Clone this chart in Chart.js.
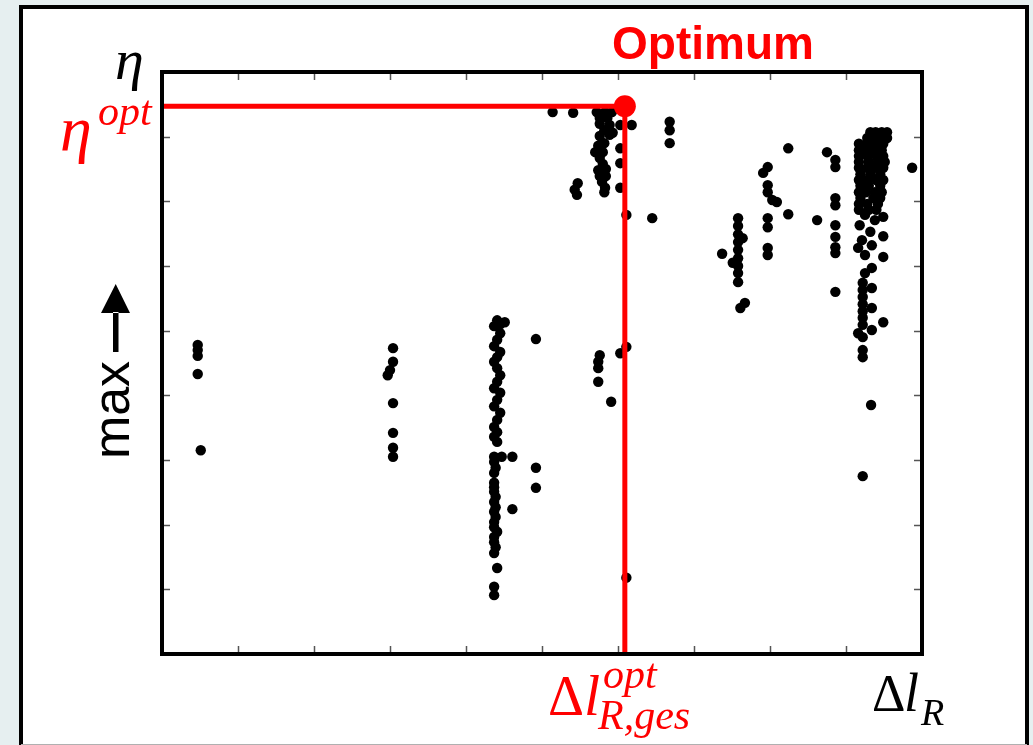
<!DOCTYPE html>
<html>
<head>
<meta charset="utf-8">
<script src="https://cdn.jsdelivr.net/npm/chart.js@4"></script>
<style>
  body { margin: 0; background: #e6eff0; }
  canvas { display: block; }
</style>
</head>
<body>
<canvas id="paretoChart" width="1033" height="745"></canvas>
<script>
// axis extent (no numbers shown on the original, only ticks)
const xTicks = [0, 1, 2, 3, 4, 5, 6, 7, 8, 9, 10];
const yTicks = [0, 1, 2, 3, 4, 5, 6, 7, 8, 9];

// optimum point (eta_opt at delta l_opt)
const optimum = [6.09, 8.47];

// simulation runs, grouped by column of the scatter
const clusterA = [[0.47, 4.78], [0.47, 4.70], [0.47, 4.61], [0.47, 4.33], [0.51, 3.15]];
const clusterB = [[3.04, 4.73], [3.04, 4.52], [3.0, 4.39], [2.97, 4.31], [3.04, 3.88], [3.04, 3.42], [3.04, 3.19], [3.04, 3.05]];
const clusterC = [
  [4.41, 5.16], [4.51, 5.13], [4.45, 5.10], [4.37, 5.07], [4.45, 4.96], [4.41, 4.86], [4.37, 4.76], [4.45, 4.67], [4.41, 4.59],
  [4.37, 4.52], [4.41, 4.42], [4.45, 4.31], [4.41, 4.21], [4.37, 4.11], [4.45, 4.04], [4.41, 3.93], [4.37, 3.83],
  [4.45, 3.73], [4.41, 3.62], [4.37, 3.51], [4.41, 3.43], [4.37, 3.36], [4.41, 3.28], [4.37, 3.05], [4.47, 3.05],
  [4.61, 3.05], [4.37, 2.97], [4.39, 2.88], [4.37, 2.80], [4.37, 2.65], [4.37, 2.58], [4.37, 2.51], [4.39, 2.43], [4.37, 2.35], [4.39, 2.27],
  [4.37, 2.20], [4.39, 2.12], [4.37, 2.04], [4.37, 1.96], [4.41, 1.89], [4.37, 1.81], [4.37, 1.73], [4.39, 1.65],
  [4.37, 1.56], [4.41, 1.33], [4.37, 1.04], [4.37, 0.91], [4.92, 4.87], [4.92, 2.88], [4.92, 2.57], [4.61, 2.24]
];
const clusterMid = [[5.76, 4.62], [5.74, 4.52], [5.74, 4.42], [5.74, 4.21], [5.91, 3.90], [6.03, 4.65], [6.11, 4.75], [6.11, 1.18]];
const clusterTop = [
  [5.14, 8.38], [5.41, 8.37], [5.72, 8.38], [5.83, 8.38], [5.92, 8.38], [5.76, 8.29], [5.86, 8.29], [5.76, 8.20], [5.82, 8.10],
  [5.76, 8.01], [5.89, 8.18], [5.89, 8.03], [5.93, 8.06], [5.74, 7.86], [5.82, 7.90], [5.70, 7.76], [5.80, 7.76], [5.76, 7.67], [5.80, 7.58],
  [5.74, 7.48], [5.84, 7.50], [5.84, 7.39], [5.76, 7.39], [5.79, 7.30], [5.83, 7.21], [5.82, 7.14], [6.03, 8.18], [6.18, 8.18], [6.03, 7.82],
  [6.03, 7.59], [6.03, 7.21], [5.47, 7.28], [5.43, 7.18], [5.46, 7.10], [6.68, 8.23], [6.68, 8.10], [6.68, 7.90],
  [6.45, 6.74], [6.11, 6.79]
];
const clusterRight = [
  [7.37, 6.19], [7.58, 6.74], [7.58, 6.62], [7.58, 6.49], [7.58, 6.37], [7.58, 6.25], [7.58, 6.12], [7.58, 6.00],
  [7.58, 5.89], [7.58, 5.75], [7.64, 6.43], [7.51, 6.05], [7.61, 5.35], [7.67, 5.43],
  [7.97, 7.53], [7.91, 7.44], [7.97, 7.25], [7.97, 7.14], [8.03, 7.02], [8.09, 6.99], [7.97, 6.74], [7.97, 6.60],
  [7.97, 6.28], [7.97, 6.17], [8.24, 7.82], [8.24, 6.80],
  [8.62, 6.71], [8.75, 7.76], [8.86, 7.64], [8.86, 7.53], [8.86, 7.05], [8.86, 6.94], [8.86, 6.63], [8.86, 6.45],
  [8.86, 6.29], [8.86, 6.20], [8.86, 5.60]
];
const clusterEdge = [
  [9.32, 8.07], [9.39, 8.07], [9.47, 8.07], [9.54, 8.07],
  [9.28, 7.98], [9.36, 7.98], [9.45, 7.98], [9.54, 7.98],
  [9.17, 7.89], [9.28, 7.89], [9.38, 7.89], [9.49, 7.89],
  [9.17, 7.79], [9.26, 7.79], [9.36, 7.79], [9.47, 7.79],
  [9.17, 7.70], [9.28, 7.70], [9.40, 7.70], [9.49, 7.70],
  [9.17, 7.61], [9.30, 7.61], [9.42, 7.61], [9.51, 7.61],
  [9.17, 7.52], [9.28, 7.52], [9.38, 7.52], [9.49, 7.52],
  [9.19, 7.42], [9.32, 7.42], [9.45, 7.42],
  [9.17, 7.33], [9.28, 7.33], [9.40, 7.33], [9.49, 7.33],
  [9.19, 7.24], [9.30, 7.24], [9.45, 7.24],
  [9.17, 7.14], [9.26, 7.14], [9.38, 7.14], [9.47, 7.14],
  [9.19, 7.05], [9.36, 7.05], [9.45, 7.05],
  [9.17, 6.96], [9.28, 6.96], [9.42, 6.96],
  [9.17, 6.87], [9.30, 6.87], [9.40, 6.87],
  [9.25, 6.79], [9.38, 6.71], [9.18, 6.63], [9.32, 6.53], [9.21, 6.40], [9.16, 6.28], [9.34, 6.32], [9.25, 6.17],
  [9.34, 5.97], [9.25, 5.89], [9.22, 5.74], [9.22, 5.63], [9.34, 5.66], [9.22, 5.52], [9.22, 5.41], [9.34, 5.35],
  [9.22, 5.30], [9.22, 5.20], [9.22, 5.09], [9.34, 5.01], [9.16, 4.96], [9.22, 4.90], [9.22, 4.70], [9.22, 4.59],
  [9.33, 3.85], [9.22, 2.75],
  [9.49, 6.76], [9.49, 6.46], [9.49, 6.14], [9.49, 5.13], [9.87, 7.52]
];

const RED = '#ff0000';
const toPoints = arr => arr.map(p => ({ x: p[0], y: p[1] }));

const runDataset = arr => ({
  type: 'scatter',
  data: toPoints(arr),
  backgroundColor: '#000',
  borderWidth: 0,
  pointRadius: 5.2,
  order: 2
});

// white slide frame behind the plot
const framePlugin = {
  id: 'frame',
  beforeDraw(chart) {
    const ctx = chart.ctx;
    ctx.save();
    ctx.fillStyle = '#e6eff0';
    ctx.fillRect(0, 0, chart.width, chart.height);
    ctx.fillStyle = '#fff';
    ctx.fillRect(21, 7, 1006, 760);
    ctx.strokeStyle = '#000';
    ctx.lineWidth = 4;
    ctx.strokeRect(21, 7, 1006, 760);
    ctx.strokeStyle = '#b0b0b0';
    ctx.lineWidth = 1;
    ctx.beginPath();
    ctx.moveTo(21, 744.5);
    ctx.lineTo(1027, 744.5);
    ctx.stroke();
    ctx.restore();
  }
};

// box, inward ticks and the formula labels
const axesPlugin = {
  id: 'axes',
  afterDatasetsDraw(chart) {
    const ctx = chart.ctx;
    const xs = chart.scales.x, ys = chart.scales.y;
    const { left, right, top, bottom } = chart.chartArea;
    ctx.save();

    ctx.strokeStyle = '#555';
    ctx.lineWidth = 1.5;
    ctx.beginPath();
    xTicks.slice(1, -1).forEach(v => {
      const px = Math.round(xs.getPixelForValue(v)) + 0.5;
      ctx.moveTo(px, bottom); ctx.lineTo(px, bottom - 8);
      ctx.moveTo(px, top); ctx.lineTo(px, top + 8);
    });
    yTicks.slice(1, -1).forEach(v => {
      const py = Math.round(ys.getPixelForValue(v)) + 0.5;
      ctx.moveTo(left, py); ctx.lineTo(left + 8, py);
      ctx.moveTo(right, py); ctx.lineTo(right - 8, py);
    });
    ctx.stroke();

    ctx.strokeStyle = '#000';
    ctx.lineWidth = 4;
    ctx.strokeRect(left, top, right - left, bottom - top);

    // Optimum title
    ctx.fillStyle = RED;
    ctx.textAlign = 'center';
    ctx.textBaseline = 'alphabetic';
    ctx.font = 'bold 46px "Liberation Sans", Arial, sans-serif';
    ctx.fillText('Optimum', 713, 59);

    ctx.textAlign = 'left';
    // eta on the y axis
    ctx.fillStyle = '#000';
    ctx.font = 'italic 58px "Liberation Serif", serif';
    ctx.fillText('η', 115, 79);
    // eta^opt
    ctx.fillStyle = RED;
    ctx.font = 'italic 64px "Liberation Serif", serif';
    ctx.fillText('η', 60, 150);
    ctx.font = 'italic 42px "Liberation Serif", serif';
    ctx.fillText('opt', 98, 125);

    // delta l^opt_R,ges
    ctx.font = '56px "Liberation Serif", serif';
    ctx.fillText('Δ', 548, 715);
    ctx.font = 'italic 58px "Liberation Serif", serif';
    ctx.fillText('l', 584, 715);
    ctx.font = 'italic 42px "Liberation Serif", serif';
    ctx.fillText('opt', 603, 688);
    ctx.fillText('R,ges', 598, 729);

    // delta l_R
    ctx.fillStyle = '#000';
    ctx.font = '52px "Liberation Serif", serif';
    ctx.fillText('Δ', 872, 711);
    ctx.font = 'italic 54px "Liberation Serif", serif';
    ctx.fillText('l', 904, 711);
    ctx.font = 'italic 38px "Liberation Serif", serif';
    ctx.fillText('R', 921, 725);

    // "max" with arrow, rotated
    ctx.save();
    ctx.translate(129, 410);
    ctx.rotate(-Math.PI / 2);
    ctx.textAlign = 'center';
    ctx.font = '52px "Liberation Sans", Arial, sans-serif';
    ctx.fillText('max', 0, 0);
    ctx.restore();
    ctx.beginPath();
    ctx.rect(113, 312, 5.5, 40);
    ctx.moveTo(101, 313);
    ctx.lineTo(130, 313);
    ctx.lineTo(115.7, 284);
    ctx.closePath();
    ctx.fill();

    ctx.restore();
  }
};

new Chart(document.getElementById('paretoChart'), {
  type: 'scatter',
  data: {
    datasets: [
      {
        type: 'line',
        data: [
          { x: 0, y: optimum[1] },
          { x: optimum[0], y: optimum[1] },
          { x: optimum[0], y: 0 }
        ],
        borderColor: RED,
        borderWidth: 5,
        pointRadius: 0,
        fill: false,
        tension: 0,
        order: 1
      },
      {
        data: [{ x: optimum[0], y: optimum[1] }],
        backgroundColor: RED,
        borderWidth: 0,
        pointRadius: 11,
        clip: false,
        order: 0
      },
      runDataset(clusterA),
      runDataset(clusterB),
      runDataset(clusterC),
      runDataset(clusterMid),
      runDataset(clusterTop),
      runDataset(clusterRight),
      runDataset(clusterEdge)
    ]
  },
  options: {
    responsive: false,
    animation: false,
    events: [],
    layout: { padding: { left: 162, top: 72, right: 111, bottom: 91 } },
    plugins: { legend: { display: false }, tooltip: { enabled: false } },
    scales: {
      x: { type: 'linear', display: false, min: xTicks[0], max: xTicks[xTicks.length - 1] },
      y: { type: 'linear', display: false, min: yTicks[0], max: yTicks[yTicks.length - 1] }
    }
  },
  plugins: [framePlugin, axesPlugin]
});
</script>
</body>
</html>
